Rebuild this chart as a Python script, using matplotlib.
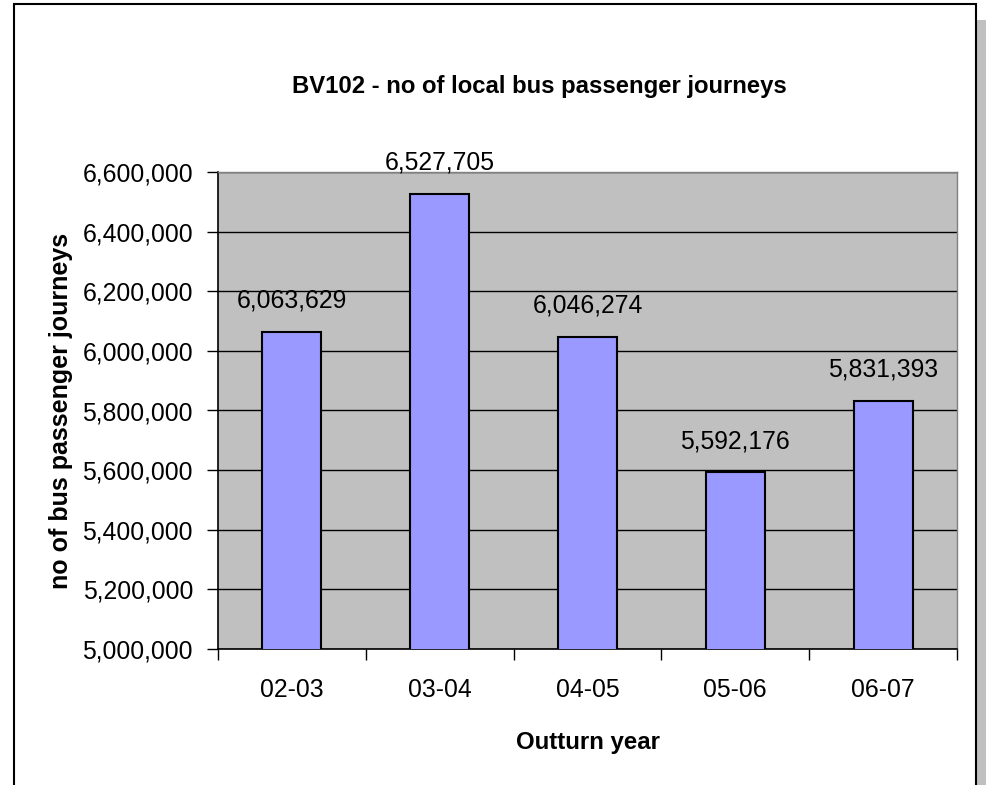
import matplotlib.pyplot as plt
from matplotlib.patches import Rectangle
from matplotlib.ticker import FuncFormatter, MultipleLocator

# Data
years = ['02-03', '03-04', '04-05', '05-06', '06-07']
journeys = [6063629, 6527705, 6046274, 5592176, 5831393]

plt.rcParams['font.family'] = ['Liberation Sans', 'DejaVu Sans']

fig = plt.figure(figsize=(9.86, 7.85), dpi=100)
ax = fig.add_axes([218 / 986, 1 - 649 / 785, (957 - 218) / 986, (649 - 172) / 785])
ax.set_zorder(5)

# outer chart frame and shadow strip
fig.patches.append(Rectangle((977 / 986, 0), 9 / 986, 1 - 20 / 785, transform=fig.transFigure,
                             facecolor='#c0c0c0', edgecolor='none', zorder=0))
fig.patches.append(Rectangle((14 / 986, -0.05), (976 - 14) / 986, 1.05 - 4 / 785, transform=fig.transFigure,
                             facecolor='none', edgecolor='black', linewidth=1.5, zorder=1))

x = range(len(years))
bars = ax.bar(x, journeys, width=0.4, color='#9999ff', edgecolor='black', linewidth=1.5, zorder=3)

# valeurs au-dessus des barres
for xi, v in zip(x, journeys):
    ax.text(xi, v + 65000, f'{v:,}', ha='center', va='bottom', fontsize=17.8, zorder=4)

ax.set_facecolor('#c0c0c0')
ax.set_xlim(-0.5, len(years) - 0.5)
ax.set_ylim(5000000, 6600000)
ax.yaxis.set_major_locator(MultipleLocator(200000))
ax.yaxis.set_major_formatter(FuncFormatter(lambda v, p: f'{int(v):,}'))
ax.grid(axis='y', color='black', linewidth=1, zorder=1)

ax.set_xticks(list(x))
ax.set_xticklabels(years)
ax.set_xticks([i - 0.5 for i in range(len(years) + 1)], minor=True)
ax.tick_params(axis='x', which='major', length=0, labelsize=17.8, pad=21)
ax.tick_params(axis='x', which='minor', length=8, width=1)
ax.tick_params(axis='y', length=8, width=1, labelsize=17.8, pad=10)

for s in ['top', 'right']:
    ax.spines[s].set_color('#808080')
    ax.spines[s].set_linewidth(1)
for s in ['left', 'bottom']:
    ax.spines[s].set_linewidth(1.2)

fig.text(539 / 986, 1 - 93 / 785, 'BV102 - no of local bus passenger journeys',
         ha='center', va='baseline', fontsize=17.2, fontweight='bold')
ax.set_xlabel('Outturn year', fontsize=17.3, fontweight='bold', labelpad=21)
ax.set_ylabel('no of bus passenger journeys', fontsize=18, fontweight='bold', labelpad=7)

plt.savefig('out.png', dpi=100)
